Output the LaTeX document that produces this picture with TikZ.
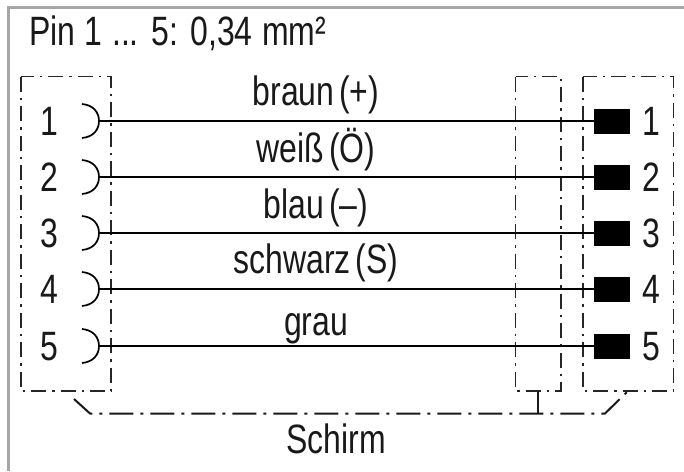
\documentclass[tikz,border=0pt]{standalone}
\usepackage{fontspec}
\setmainfont[FakeStretch=0.78,WordSpace=0.55]{Liberation Sans}
\tikzset{
  lbl/.style={inner sep=0pt,anchor=base,font=\fontsize{41}{41}\selectfont,text=black!90},
  frameline/.style={draw=black!35,line width=3pt},
  dd/.style={draw=black!85,line width=1.5pt,dash pattern=on 15pt off 6pt on 2.5pt off 6pt},
  shield/.style={draw=black!90,line width=2pt,dash pattern=on 24pt off 7pt on 3pt off 7pt},
  wire/.style={draw=black,line width=2.1pt},
  cup/.style={draw=black,line width=1.7pt},
  pad/.style={fill=black,minimum width=36pt,minimum height=25pt,inner sep=0pt,outer sep=0pt,anchor=west}
}
\begin{document}
\begin{tikzpicture}[x=1pt,y=-1pt]
\useasboundingbox (0,0) rectangle (684,471);
\fill[white] (0,0) rectangle (684,471);
\draw[frameline] (684,7) -- (8.5,7) -- (8.5,471);
\node[lbl,anchor=base west] (title) at (29,45) {\spaceskip=9.5pt Pin 1 ... 5: 0,34 mm²};
% boxes
\draw[dd] (21,76.5) rectangle (111,391);
\draw[dd] (515.5,76.5) rectangle (561,391);
\draw[dd] (583,76.5) rectangle (673.5,391);
% pins
\foreach \n/\y in {1/121,2/177,3/233,4/289,5/346}{
  \coordinate (c\n) at (99,\y);
  \node[pad] (p\n) at (594,\y) {};
  \draw[cup] (82,\y-17) .. controls (93,\y-16) and (99,\y-9) .. (c\n) .. controls (99,\y+9) and (93,\y+16) .. (82,\y+17);
  \draw[wire] (c\n) -- (p\n.west);
  \node[lbl] (l\n) at (49,\y+14) {\n};
  \node[lbl] (r\n) at (651,\y+14) {\n};
}
% wire labels
\node[lbl] (braun) at (316,105) {braun (+)};
\node[lbl] (weiss) at (316,162) {weiß (Ö)};
\node[lbl] (blau) at (316,218) {blau (–)};
\node[lbl] (schwarz) at (316,273) {schwarz (S)};
\node[lbl] (grau) at (316,335) {grau};
\node[lbl] (schirm) at (336,453) {Schirm};
% shield
\coordinate (s1) at (74,399);
\coordinate (s2) at (90,413.5);
\coordinate (s3) at (605,413.5);
\coordinate (s4) at (628,391);
\coordinate (t1) at (538,413.5);
\coordinate (t2) at (538,391);
\draw[shield] (s1) -- (s2) -- (s3) -- (s4);
\draw[draw=black!90,line width=2pt] (t1) -- (t2);
\end{tikzpicture}
\end{document}
